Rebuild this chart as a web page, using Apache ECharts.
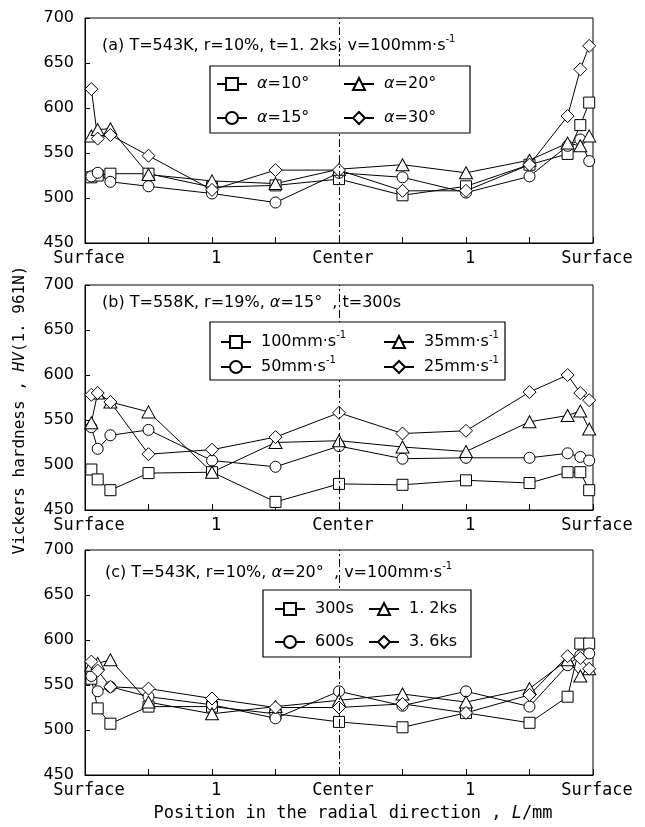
<!DOCTYPE html>
<html>
<head>
<meta charset="utf-8">
<script src="https://cdn.jsdelivr.net/npm/echarts@6.0.0/dist/echarts.min.js"></script>
<style>
html, body { margin: 0; padding: 0; background: #fff; }
#chart { width: 645px; height: 827px; }
</style>
</head>
<body>
<div id="chart"></div>
<script>
// measuring positions (mm from the left surface), same for every curve
var xPos = [0.05, 0.1, 0.2, 0.5, 1, 1.5, 2, 2.5, 3, 3.5, 3.8, 3.9, 3.97];
var xTickLabels = ['Surface', '1', 'Center', '1', 'Surface'];

// (a) T=543K, r=10%, t=1.2ks, v=100mm/s  -- die angle
var namesA = ['α=10°', 'α=15°', 'α=20°', 'α=30°'];
var hvA10 = [523, 525, 527, 527, 512, 514, 521, 503, 513, 537, 549, 581, 606];
var hvA15 = [524, 528, 518, 513, 505, 495, 528, 523, 506, 524, 558, 565, 541];
var hvA20 = [569, 576, 577, 526, 519, 516, 532, 537, 528, 542, 561, 558, 569];
var hvA30 = [621, 566, 570, 547, 509, 531, 531, 508, 508, 537, 591, 643, 669];

// (b) T=558K, r=19%, alpha=15, t=300s  -- drawing speed
var namesB = ['100mm·s⁻¹', '50mm·s⁻¹', '35mm·s⁻¹', '25mm·s⁻¹'];
var hvB100 = [495, 484, 472, 491, 492, 459, 479, 478, 483, 480, 492, 492, 472];
var hvB50 = [542, 518, 533, 539, 505, 498, 521, 507, 508, 508, 513, 509, 505];
var hvB35 = [547, 580, 570, 559, 492, 525, 527, 520, 515, 548, 555, 560, 540];
var hvB25 = [578, 580, 570, 512, 517, 531, 558, 535, 538, 581, 600, 580, 572];

// (c) T=543K, r=10%, alpha=20, v=100mm/s  -- holding time
var namesC = ['300s', '600s', '1. 2ks', '3. 6ks'];
var hvC300 = [557, 524, 507, 526, 526, 518, 509, 503, 519, 508, 537, 596, 596];
var hvC600 = [560, 543, 548, 537, 528, 513, 543, 527, 543, 526, 572, 583, 585];
var hvC1200 = [572, 574, 578, 531, 518, 526, 533, 540, 531, 546, 578, 560, 568];
var hvC3600 = [576, 566, 548, 546, 535, 525, 525, 529, 519, 539, 582, 580, 568];

var notes = [
   '(a) T=543K, r=10%, t=1. 2ks, v=100mm·s{s|-1}',
   '(b) T=558K, r=19%, {g|α}=15°  , t=300s',
   '(c) T=543K, r=10%, {g|α}=20°  , v=100mm·s{s|-1}'
];

var FONT = 'DejaVu Sans, sans-serif';
var MONO = 'DejaVu Sans Mono, monospace';
var symbols = ['rect', 'circle', 'triangle', 'diamond'];
var symSizes = [11, 11, [13, 12], 13];

// panel layout (pixels)
var panels = [
   {names: namesA, data: [hvA10, hvA15, hvA20, hvA30], top: 18, note: [102, 46],
    box: [210, 66, 260, 67], cols: [[216, 72], [343, 72]], gap: 10},
   {names: namesB, data: [hvB100, hvB50, hvB35, hvB25], top: 285, note: [102, 303],
    box: [210, 322, 295, 58], cols: [[220, 330], [383, 330]], gap: 1},
   {names: namesC, data: [hvC300, hvC600, hvC1200, hvC3600], top: 550, note: [105, 573],
    box: [263, 590, 208, 67], cols: [[274, 597], [368, 597]], gap: 9}
];

var richText = {
   g: {fontStyle: 'italic', fontFamily: FONT, fontSize: 16, color: '#000'},
   s: {fontSize: 10, fontFamily: FONT, verticalAlign: 'top', lineHeight: 11, color: '#000'},
   i: {fontStyle: 'italic', fontFamily: MONO, fontSize: 16, color: '#000'},
   j: {fontStyle: 'italic', fontFamily: MONO, fontSize: 17, color: '#000'}
};

var grids = [], xAxes = [], yAxes = [], series = [], legends = [], graphics = [];

panels.forEach(function (p, k) {
   grids.push({left: 85, right: 52, top: p.top, height: 225, show: true,
      borderColor: '#000', borderWidth: 1, backgroundColor: 'transparent'});

   xAxes.push({
      type: 'value', gridIndex: k, min: 0, max: 4, interval: 0.5,
      axisLine: {show: true, lineStyle: {color: '#000', width: 1}},
      axisTick: {show: true, inside: true, length: 6, lineStyle: {color: '#000'}},
      splitLine: {show: false},
      axisLabel: {
         color: '#000', fontFamily: MONO, fontSize: 17, margin: 7, padding: [0, 0, 0, 8],
         formatter: function (v) {
            return Number.isInteger(v) ? xTickLabels[v] : '';
         }
      }
   });

   yAxes.push({
      type: 'value', gridIndex: k, min: 450, max: 700, interval: 50,
      axisLine: {show: true, lineStyle: {color: '#000', width: 1}},
      axisTick: {show: true, inside: true, length: 5, lineStyle: {color: '#000'}},
      splitLine: {show: false},
      axisLabel: {color: '#000', fontFamily: FONT, fontSize: 16, margin: 11}
   });

   p.names.forEach(function (name, j) {
      var s = {
         type: 'line', name: name, xAxisIndex: k, yAxisIndex: k,
         data: xPos.map(function (x, i) { return [x, p.data[j][i]]; }),
         symbol: symbols[j], symbolSize: symSizes[j], showAllSymbol: true,
         lineStyle: {color: '#000', width: 1},
         itemStyle: {color: '#fff', borderColor: '#000', borderWidth: 1},
         emphasis: {disabled: true},
         z: 2
      };
      if (j === 0) {
         // dash-dot centre line
         s.markLine = {
            silent: true, symbol: 'none', label: {show: false},
            lineStyle: {color: '#000', width: 1, type: [8, 3, 2, 3]},
            data: [{xAxis: 2}]
         };
      }
      series.push(s);
   });

   // two legend columns inside a framed white box
   p.cols.forEach(function (c, ci) {
      legends.push({
         data: [p.names[ci * 2], p.names[ci * 2 + 1]],
         orient: 'vertical', left: c[0], top: c[1], padding: 0,
         itemGap: p.gap, itemWidth: 30, itemHeight: 15,
         selectedMode: false, z: 20,
         textStyle: {color: '#000', fontFamily: FONT, fontSize: 16, lineHeight: 24,
            padding: [0, 0, 0, 5], rich: richText},
         formatter: function (name) {
            return name.replace('α', '{g|α}').replace('⁻¹', '{s|-1}');
         }
      });
   });

   graphics.push({
      type: 'rect', z: 10,
      shape: {x: p.box[0], y: p.box[1], width: p.box[2], height: p.box[3]},
      style: {fill: '#fff', stroke: '#000', lineWidth: 1.2}
   });
   graphics.push({
      type: 'text', z: 10, x: p.note[0], y: p.note[1],
      style: {text: notes[k], fill: '#000', fontFamily: FONT, fontSize: 16,
         lineHeight: 24, align: 'left', verticalAlign: 'middle', rich: richText}
   });
});

// axis titles
graphics.push({
   type: 'text', z: 10, x: 20, y: 410, rotation: Math.PI / 2,
   style: {text: 'Vickers hardness , {i|HV}(1. 961N)', fill: '#000', fontFamily: MONO,
      fontSize: 16, align: 'center', verticalAlign: 'middle', rich: richText}
});
graphics.push({
   type: 'text', z: 10, x: 353, y: 814,
   style: {text: 'Position in the radial direction , {j|L}/mm', fill: '#000', fontFamily: MONO,
      fontSize: 17, align: 'center', verticalAlign: 'middle', rich: richText}
});

var chart = echarts.init(document.getElementById('chart'));
chart.setOption({
   animation: false,
   backgroundColor: '#fff',
   grid: grids,
   xAxis: xAxes,
   yAxis: yAxes,
   legend: legends,
   series: series,
   graphic: graphics
});
</script>
</body>
</html>
